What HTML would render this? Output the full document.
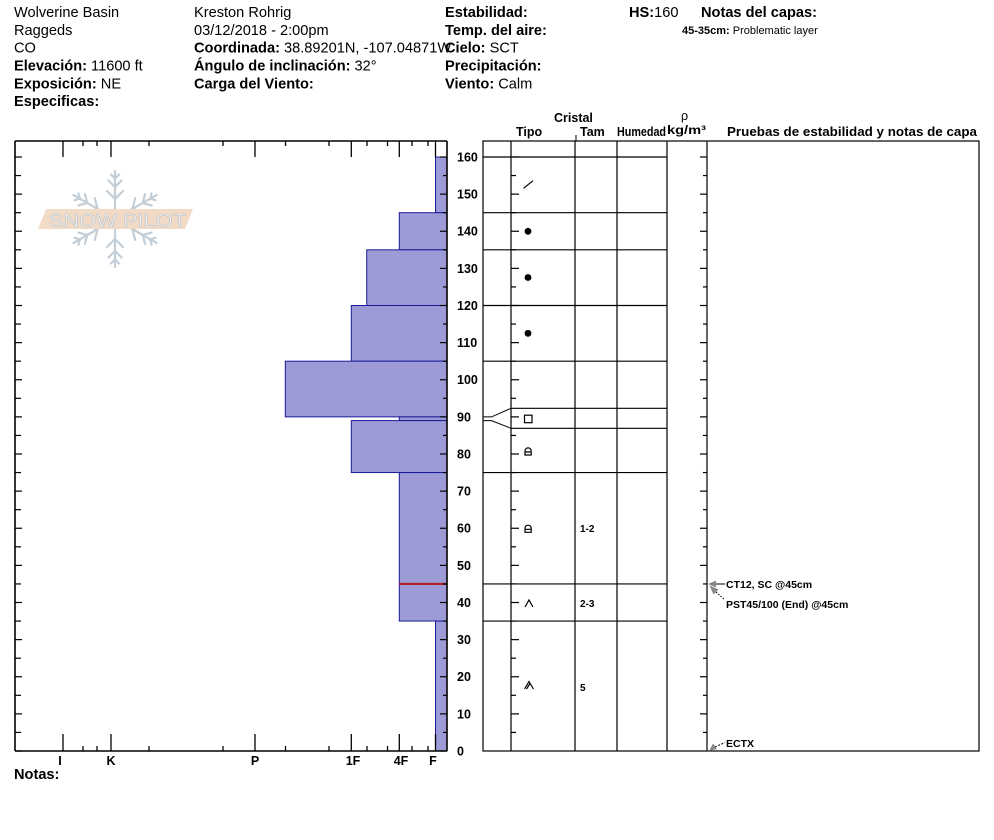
<!DOCTYPE html>
<html><head><meta charset="utf-8"><style>
html,body{margin:0;padding:0;background:#fff;}
svg{display:block;}
text{font-family:"Liberation Sans",Arial,sans-serif;fill:#000;}
.h{font-size:14.6px;}
.b{font-weight:bold;}
.ax{font-size:12.5px;font-weight:bold;}
</style></head><body>
<svg width="994" height="840" viewBox="0 0 994 840" xmlns="http://www.w3.org/2000/svg">
<rect width="994" height="840" fill="#fff"/>
<!-- Header column 1 -->
<text class="h" x="14" y="17">Wolverine Basin</text>
<text class="h" x="14" y="35">Raggeds</text>
<text class="h" x="14" y="52.5">CO</text>
<text class="h" x="14" y="70.5"><tspan class="b">Elevación:</tspan> 11600 ft</text>
<text class="h" x="14" y="88.5"><tspan class="b">Exposición:</tspan> NE</text>
<text class="h b" x="14" y="106">Especificas:</text>
<!-- column 2 -->
<text class="h" x="194" y="17">Kreston Rohrig</text>
<text class="h" x="194" y="35">03/12/2018 - 2:00pm</text>
<text class="h" x="194" y="52.5"><tspan class="b">Coordinada:</tspan> 38.89201N, -107.04871W</text>
<text class="h" x="194" y="70.5"><tspan class="b">Ángulo de inclinación:</tspan> 32°</text>
<text class="h b" x="194" y="88.5">Carga del Viento:</text>
<!-- column 3 -->
<text class="h b" x="445" y="17">Estabilidad:</text>
<text class="h b" x="445" y="35">Temp. del aire:</text>
<text class="h" x="445" y="52.5"><tspan class="b">Cielo:</tspan> SCT</text>
<text class="h b" x="445" y="70.5">Precipitación:</text>
<text class="h" x="445" y="88.5"><tspan class="b">Viento:</tspan>  Calm</text>
<text class="h" x="629" y="17"><tspan class="b">HS:</tspan>160</text>
<text class="h b" x="701" y="17">Notas del capas:</text>
<text x="682" y="34" style="font-size:11px"><tspan class="b">45-35cm:</tspan> Problematic layer</text>

<!-- Snow pilot logo -->
<defs>
<g id="arm" stroke="#c3ced7" stroke-width="2.2" fill="none" stroke-linecap="round">
<line x1="115" y1="219" x2="115" y2="171"/>
<polyline points="107,191 115,199 123,191"/>
<polyline points="108.5,180.5 115,187 121.5,180.5"/>
<polyline points="111,174.5 115,178.5 119,174.5"/>
</g>
</defs>
<use href="#arm"/>
<use href="#arm" transform="rotate(180 115 219)"/>
<use href="#arm" transform="rotate(60 115 219)"/>
<use href="#arm" transform="rotate(120 115 219)"/>
<use href="#arm" transform="rotate(240 115 219)"/>
<use href="#arm" transform="rotate(300 115 219)"/>
<polygon points="46,209 193,209 185,229 38,229" fill="#f2dbc6"/>
<text x="49" y="227" textLength="137" lengthAdjust="spacingAndGlyphs" style="font-size:18px;fill:#f6f6f6;stroke:#c9c9c9;stroke-width:0.8">SNOW PILOT</text>

<!-- Left chart bars -->
<g fill="#9c9bd6" stroke="#1a1a9a" stroke-width="1">
<rect x="435.5" y="157" width="11.5" height="55.69"/>
<rect x="399.3" y="212.69" width="47.7" height="37.12"/>
<rect x="366.7" y="249.81" width="80.3" height="55.69"/>
<rect x="351.3" y="305.5" width="95.7" height="55.69"/>
<rect x="285.3" y="361.19" width="161.7" height="55.69"/>
<rect x="399.3" y="416.88" width="47.7" height="3.71"/>
<rect x="351.3" y="420.59" width="95.7" height="51.97"/>
<rect x="399.3" y="472.56" width="47.7" height="111.38"/>
<rect x="399.3" y="583.94" width="47.7" height="37.12"/>
<rect x="435.5" y="621.06" width="11.5" height="129.94"/>
</g>
<line x1="399.3" y1="583.94" x2="447" y2="583.94" stroke="#b21e24" stroke-width="2.2"/>

<!-- Left chart frame -->
<g stroke="#000" stroke-width="1.6" fill="none">
<line x1="15" y1="141" x2="447" y2="141"/>
<line x1="15" y1="141" x2="15" y2="751"/>
<line x1="15" y1="751" x2="447" y2="751"/>
<line x1="447" y1="141" x2="447" y2="751"/>
</g>
<!-- hardness ticks -->
<g stroke="#000" stroke-width="1.3">
<line x1="63" y1="751" x2="63" y2="734"/><line x1="111" y1="751" x2="111" y2="734"/><line x1="255" y1="751" x2="255" y2="734"/><line x1="351.3" y1="751" x2="351.3" y2="734"/><line x1="399.3" y1="751" x2="399.3" y2="734"/><line x1="435.5" y1="751" x2="435.5" y2="734"/>
<line x1="83" y1="751" x2="83" y2="746"/><line x1="97" y1="751" x2="97" y2="746"/><line x1="149" y1="751" x2="149" y2="746"/><line x1="223" y1="751" x2="223" y2="746"/><line x1="285.5" y1="751" x2="285.5" y2="746"/><line x1="329" y1="751" x2="329" y2="746"/><line x1="367" y1="751" x2="367" y2="746"/><line x1="387.5" y1="751" x2="387.5" y2="746"/><line x1="412" y1="751" x2="412" y2="746"/><line x1="428" y1="751" x2="428" y2="746"/>
<line x1="63" y1="141" x2="63" y2="157"/><line x1="111" y1="141" x2="111" y2="157"/><line x1="255" y1="141" x2="255" y2="157"/><line x1="351.3" y1="141" x2="351.3" y2="157"/><line x1="399.3" y1="141" x2="399.3" y2="157"/><line x1="435.5" y1="141" x2="435.5" y2="157"/>
<line x1="83" y1="141" x2="83" y2="146"/><line x1="97" y1="141" x2="97" y2="146"/><line x1="149" y1="141" x2="149" y2="146"/><line x1="223" y1="141" x2="223" y2="146"/><line x1="285.5" y1="141" x2="285.5" y2="146"/><line x1="329" y1="141" x2="329" y2="146"/><line x1="367" y1="141" x2="367" y2="146"/><line x1="387.5" y1="141" x2="387.5" y2="146"/><line x1="412" y1="141" x2="412" y2="146"/><line x1="428" y1="141" x2="428" y2="146"/>
</g>
<!-- height ticks: left axis, right axis, right chart col lines -->
<g stroke="#000" stroke-width="1.2">
<line x1="15" y1="751" x2="22" y2="751"/><line x1="440" y1="751" x2="447" y2="751"/>
<line x1="15" y1="732.44" x2="21" y2="732.44"/><line x1="443" y1="732.44" x2="447" y2="732.44"/><line x1="511" y1="732.44" x2="516" y2="732.44"/><line x1="703" y1="732.44" x2="707" y2="732.44"/>
<line x1="15" y1="713.88" x2="22" y2="713.88"/><line x1="440" y1="713.88" x2="447" y2="713.88"/><line x1="511" y1="713.88" x2="519" y2="713.88"/><line x1="700" y1="713.88" x2="707" y2="713.88"/>
<line x1="15" y1="695.31" x2="21" y2="695.31"/><line x1="443" y1="695.31" x2="447" y2="695.31"/><line x1="511" y1="695.31" x2="516" y2="695.31"/><line x1="703" y1="695.31" x2="707" y2="695.31"/>
<line x1="15" y1="676.75" x2="22" y2="676.75"/><line x1="440" y1="676.75" x2="447" y2="676.75"/><line x1="511" y1="676.75" x2="519" y2="676.75"/><line x1="700" y1="676.75" x2="707" y2="676.75"/>
<line x1="15" y1="658.19" x2="21" y2="658.19"/><line x1="443" y1="658.19" x2="447" y2="658.19"/><line x1="511" y1="658.19" x2="516" y2="658.19"/><line x1="703" y1="658.19" x2="707" y2="658.19"/>
<line x1="15" y1="639.63" x2="22" y2="639.63"/><line x1="440" y1="639.63" x2="447" y2="639.63"/><line x1="511" y1="639.63" x2="519" y2="639.63"/><line x1="700" y1="639.63" x2="707" y2="639.63"/>
<line x1="15" y1="621.06" x2="21" y2="621.06"/><line x1="443" y1="621.06" x2="447" y2="621.06"/><line x1="511" y1="621.06" x2="516" y2="621.06"/><line x1="703" y1="621.06" x2="707" y2="621.06"/>
<line x1="15" y1="602.5" x2="22" y2="602.5"/><line x1="440" y1="602.5" x2="447" y2="602.5"/><line x1="511" y1="602.5" x2="519" y2="602.5"/><line x1="700" y1="602.5" x2="707" y2="602.5"/>
<line x1="15" y1="583.94" x2="21" y2="583.94"/><line x1="443" y1="583.94" x2="447" y2="583.94"/><line x1="511" y1="583.94" x2="516" y2="583.94"/><line x1="703" y1="583.94" x2="707" y2="583.94"/>
<line x1="15" y1="565.38" x2="22" y2="565.38"/><line x1="440" y1="565.38" x2="447" y2="565.38"/><line x1="511" y1="565.38" x2="519" y2="565.38"/><line x1="700" y1="565.38" x2="707" y2="565.38"/>
<line x1="15" y1="546.81" x2="21" y2="546.81"/><line x1="443" y1="546.81" x2="447" y2="546.81"/><line x1="511" y1="546.81" x2="516" y2="546.81"/><line x1="703" y1="546.81" x2="707" y2="546.81"/>
<line x1="15" y1="528.25" x2="22" y2="528.25"/><line x1="440" y1="528.25" x2="447" y2="528.25"/><line x1="511" y1="528.25" x2="519" y2="528.25"/><line x1="700" y1="528.25" x2="707" y2="528.25"/>
<line x1="15" y1="509.69" x2="21" y2="509.69"/><line x1="443" y1="509.69" x2="447" y2="509.69"/><line x1="511" y1="509.69" x2="516" y2="509.69"/><line x1="703" y1="509.69" x2="707" y2="509.69"/>
<line x1="15" y1="491.13" x2="22" y2="491.13"/><line x1="440" y1="491.13" x2="447" y2="491.13"/><line x1="511" y1="491.13" x2="519" y2="491.13"/><line x1="700" y1="491.13" x2="707" y2="491.13"/>
<line x1="15" y1="472.56" x2="21" y2="472.56"/><line x1="443" y1="472.56" x2="447" y2="472.56"/><line x1="511" y1="472.56" x2="516" y2="472.56"/><line x1="703" y1="472.56" x2="707" y2="472.56"/>
<line x1="15" y1="454" x2="22" y2="454"/><line x1="440" y1="454" x2="447" y2="454"/><line x1="511" y1="454" x2="519" y2="454"/><line x1="700" y1="454" x2="707" y2="454"/>
<line x1="15" y1="435.44" x2="21" y2="435.44"/><line x1="443" y1="435.44" x2="447" y2="435.44"/><line x1="511" y1="435.44" x2="516" y2="435.44"/><line x1="703" y1="435.44" x2="707" y2="435.44"/>
<line x1="15" y1="416.88" x2="22" y2="416.88"/><line x1="440" y1="416.88" x2="447" y2="416.88"/><line x1="511" y1="416.88" x2="519" y2="416.88"/><line x1="700" y1="416.88" x2="707" y2="416.88"/>
<line x1="15" y1="398.31" x2="21" y2="398.31"/><line x1="443" y1="398.31" x2="447" y2="398.31"/><line x1="511" y1="398.31" x2="516" y2="398.31"/><line x1="703" y1="398.31" x2="707" y2="398.31"/>
<line x1="15" y1="379.75" x2="22" y2="379.75"/><line x1="440" y1="379.75" x2="447" y2="379.75"/><line x1="511" y1="379.75" x2="519" y2="379.75"/><line x1="700" y1="379.75" x2="707" y2="379.75"/>
<line x1="15" y1="361.19" x2="21" y2="361.19"/><line x1="443" y1="361.19" x2="447" y2="361.19"/><line x1="511" y1="361.19" x2="516" y2="361.19"/><line x1="703" y1="361.19" x2="707" y2="361.19"/>
<line x1="15" y1="342.63" x2="22" y2="342.63"/><line x1="440" y1="342.63" x2="447" y2="342.63"/><line x1="511" y1="342.63" x2="519" y2="342.63"/><line x1="700" y1="342.63" x2="707" y2="342.63"/>
<line x1="15" y1="324.06" x2="21" y2="324.06"/><line x1="443" y1="324.06" x2="447" y2="324.06"/><line x1="511" y1="324.06" x2="516" y2="324.06"/><line x1="703" y1="324.06" x2="707" y2="324.06"/>
<line x1="15" y1="305.5" x2="22" y2="305.5"/><line x1="440" y1="305.5" x2="447" y2="305.5"/><line x1="511" y1="305.5" x2="519" y2="305.5"/><line x1="700" y1="305.5" x2="707" y2="305.5"/>
<line x1="15" y1="286.94" x2="21" y2="286.94"/><line x1="443" y1="286.94" x2="447" y2="286.94"/><line x1="511" y1="286.94" x2="516" y2="286.94"/><line x1="703" y1="286.94" x2="707" y2="286.94"/>
<line x1="15" y1="268.38" x2="22" y2="268.38"/><line x1="440" y1="268.38" x2="447" y2="268.38"/><line x1="511" y1="268.38" x2="519" y2="268.38"/><line x1="700" y1="268.38" x2="707" y2="268.38"/>
<line x1="15" y1="249.81" x2="21" y2="249.81"/><line x1="443" y1="249.81" x2="447" y2="249.81"/><line x1="511" y1="249.81" x2="516" y2="249.81"/><line x1="703" y1="249.81" x2="707" y2="249.81"/>
<line x1="15" y1="231.25" x2="22" y2="231.25"/><line x1="440" y1="231.25" x2="447" y2="231.25"/><line x1="511" y1="231.25" x2="519" y2="231.25"/><line x1="700" y1="231.25" x2="707" y2="231.25"/>
<line x1="15" y1="212.69" x2="21" y2="212.69"/><line x1="443" y1="212.69" x2="447" y2="212.69"/><line x1="511" y1="212.69" x2="516" y2="212.69"/><line x1="703" y1="212.69" x2="707" y2="212.69"/>
<line x1="15" y1="194.13" x2="22" y2="194.13"/><line x1="440" y1="194.13" x2="447" y2="194.13"/><line x1="511" y1="194.13" x2="519" y2="194.13"/><line x1="700" y1="194.13" x2="707" y2="194.13"/>
<line x1="15" y1="175.56" x2="21" y2="175.56"/><line x1="443" y1="175.56" x2="447" y2="175.56"/><line x1="511" y1="175.56" x2="516" y2="175.56"/><line x1="703" y1="175.56" x2="707" y2="175.56"/>
<line x1="15" y1="157" x2="22" y2="157"/><line x1="440" y1="157" x2="447" y2="157"/><line x1="511" y1="157" x2="519" y2="157"/><line x1="700" y1="157" x2="707" y2="157"/>
</g>

<!-- height labels -->
<g>
<text class="ax" x="457" y="161.5">160</text>
<text class="ax" x="457" y="198.6">150</text>
<text class="ax" x="457" y="235.7">140</text>
<text class="ax" x="457" y="272.9">130</text>
<text class="ax" x="457" y="310">120</text>
<text class="ax" x="457" y="347.1">110</text>
<text class="ax" x="457" y="384.2">100</text>
<text class="ax" x="457" y="421.4">90</text>
<text class="ax" x="457" y="458.5">80</text>
<text class="ax" x="457" y="495.6">70</text>
<text class="ax" x="457" y="532.7">60</text>
<text class="ax" x="457" y="569.9">50</text>
<text class="ax" x="457" y="607">40</text>
<text class="ax" x="457" y="644.1">30</text>
<text class="ax" x="457" y="681.2">20</text>
<text class="ax" x="457" y="718.4">10</text>
<text class="ax" x="457" y="755.5">0</text>
</g>

<!-- hardness labels -->
<g>
<text class="ax" x="60" y="765" text-anchor="middle">I</text>
<text class="ax" x="111" y="765" text-anchor="middle">K</text>
<text class="ax" x="255" y="765" text-anchor="middle">P</text>
<text class="ax" x="353" y="765" text-anchor="middle">1F</text>
<text class="ax" x="401" y="765" text-anchor="middle">4F</text>
<text class="ax" x="433" y="765" text-anchor="middle">F</text>
</g>
<text class="h b" x="14" y="779">Notas:</text>

<!-- Right chart header -->
<text class="ax" x="554" y="122">Cristal</text>
<text class="ax" x="516" y="136">Tipo</text>
<text class="ax" x="580" y="136">Tam</text>
<text class="ax" x="617" y="136" textLength="49" lengthAdjust="spacingAndGlyphs">Humedad</text>
<text x="681" y="120" style="font-size:12.5px">ρ</text>
<text class="ax" x="667" y="134" textLength="39" lengthAdjust="spacingAndGlyphs" style="font-size:12px">kg/m³</text>
<text class="ax" x="727" y="136" textLength="250" lengthAdjust="spacingAndGlyphs" style="font-size:13px">Pruebas de estabilidad y notas de capa</text>
<line x1="576" y1="135" x2="576" y2="141" stroke="#000" stroke-width="1"/>

<!-- Right chart frame and columns -->
<g stroke="#000" stroke-width="1.2" fill="none">
<rect x="483" y="141" width="496" height="610"/>
<line x1="511" y1="141" x2="511" y2="751"/>
<line x1="575" y1="141" x2="575" y2="751"/>
<line x1="617" y1="141" x2="617" y2="751"/>
<line x1="667" y1="141" x2="667" y2="751"/>
<line x1="707" y1="141" x2="707" y2="751"/>
<line x1="483" y1="157" x2="667" y2="157"/>
<line x1="483" y1="212.69" x2="667" y2="212.69"/>
<line x1="483" y1="249.81" x2="667" y2="249.81"/>
<line x1="483" y1="305.5" x2="667" y2="305.5"/>
<line x1="483" y1="361.19" x2="667" y2="361.19"/>
<line x1="511" y1="408.3" x2="667" y2="408.3"/>
<line x1="511" y1="428.3" x2="667" y2="428.3"/>
<polyline points="483,416.9 491.5,416.9 511,408.3" stroke-width="1"/>
<polyline points="483,420.6 491.5,420.6 511,428.3" stroke-width="1"/>
<line x1="483" y1="472.56" x2="667" y2="472.56"/>
<line x1="483" y1="583.94" x2="667" y2="583.94"/>
<line x1="483" y1="621.06" x2="667" y2="621.06"/>
</g>

<!-- grain symbols -->
<g stroke="#000" stroke-width="1.2" fill="none">
<line x1="523.5" y1="188.3" x2="533" y2="180.7"/>
<rect x="524.5" y="415.2" width="7.5" height="7.5"/>
<path d="M525,455 L525,451 A3.1,3.1 0 0 1 531.2,451 L531.2,455 Z M525,452 H531.2"/>
<path d="M525,532.3 L525,528.3 A3.1,3.1 0 0 1 531.2,528.3 L531.2,532.3 Z M525,529.3 H531.2"/>
<polyline points="525,607 529,600 533,607"/>
<polyline points="524.5,689 529,681.5 533.5,689"/>
<line x1="526.5" y1="689" x2="530" y2="683.5"/>
</g>
<g fill="#000">
<circle cx="528" cy="231.3" r="3.4"/>
<circle cx="528" cy="277.5" r="3.4"/>
<circle cx="528" cy="333.3" r="3.4"/>
</g>
<text x="580" y="532" style="font-size:10px;font-weight:bold">1-2</text>
<text x="580" y="607" style="font-size:10px;font-weight:bold">2-3</text>
<text x="580" y="691" style="font-size:10px;font-weight:bold">5</text>

<!-- stability test annotations -->
<line x1="714" y1="584" x2="725" y2="584" stroke="#000" stroke-width="1"/>
<polygon points="708,584 716,580.5 716,587.5" fill="#888"/>
<line x1="716" y1="592" x2="724" y2="599" stroke="#000" stroke-width="1" stroke-dasharray="1.5,1.5"/>
<polygon points="709.5,585.5 718.5,589.5 713.5,594.5" fill="#888"/>
<line x1="715" y1="747" x2="725" y2="742.5" stroke="#000" stroke-width="1" stroke-dasharray="2,1.5"/>
<polygon points="709,751 713,743.5 717,749" fill="#888"/>
<text x="726" y="588" style="font-size:10.5px;font-weight:bold">CT12, SC @45cm</text>
<text x="726" y="608" style="font-size:10.5px;font-weight:bold">PST45/100 (End) @45cm</text>
<text x="726" y="747" style="font-size:10.5px;font-weight:bold">ECTX</text>
</svg>
</body></html>
